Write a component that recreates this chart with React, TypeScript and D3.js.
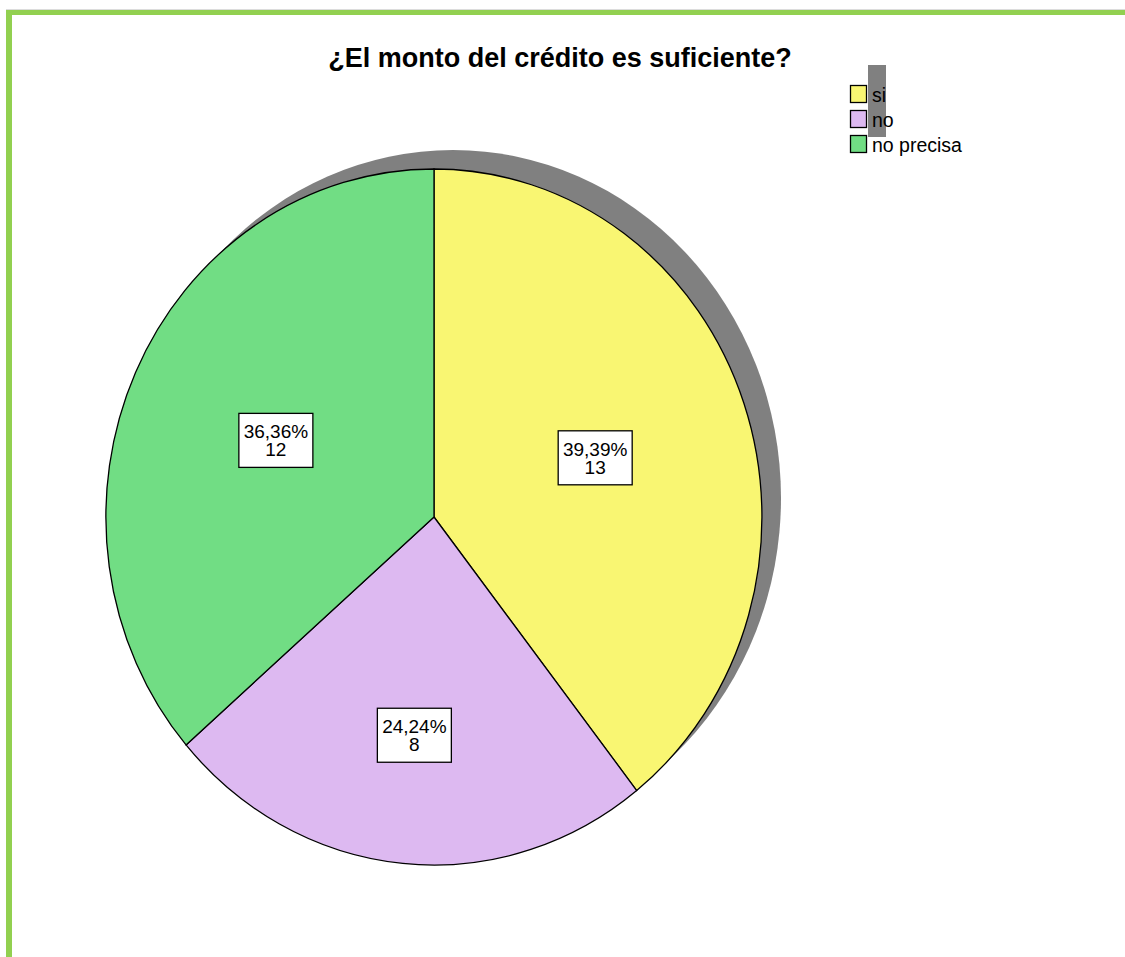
import React from "react";
import * as d3 from "d3";

const categories = ["si", "no", "no precisa"];
const counts = [13, 8, 12];
const percentLabels = ["39,39%", "24,24%", "36,36%"];
const colors = ["#F9F672", "#DDB9F1", "#71DD84"];
const labelRadii = [0.52, 0.63, 0.53];
const title = "¿El monto del crédito es suficiente?";

const W = 1125;
const H = 957;
const cx = 434;
const cy = 517;
const rx = 328;
const ry = 348;

export default function App() {
  const pie = d3.pie<number>().sort(null).value((d) => d)(counts);
  const arc = d3.arc<d3.PieArcDatum<number>>().innerRadius(0).outerRadius(1);
  const font = "'Liberation Sans', Arial, sans-serif";
  return (
    <svg
      width={W}
      height={H}
      style={{ position: "absolute", left: 0, top: 0, background: "#fff" }}
    >
      <rect x={6} y={9} width={W} height={1} fill="#dcdcdc" />
      <rect x={6} y={10} width={W} height={5} fill="#92D050" />
      <rect x={6} y={10} width={6} height={H} fill="#92D050" />
      <text
        x={560}
        y={67}
        textAnchor="middle"
        fontFamily={font}
        fontWeight="bold"
        fontSize={27}
        fill="#000"
      >
        {title}
      </text>
      {/* shadow */}
      <ellipse cx={cx + 19} cy={cy - 19} rx={rx} ry={ry} fill="#808080" />
      <g transform={`translate(${cx},${cy}) scale(${rx},${ry})`}>
        {pie.map((p, i) => (
          <path
            key={i}
            d={arc(p) as string}
            fill={colors[i]}
            stroke="#000"
            strokeWidth={1.3}
            vectorEffect="non-scaling-stroke"
          />
        ))}
      </g>
      {pie.map((p, i) => {
        const a = (p.startAngle + p.endAngle) / 2;
        const x = cx + rx * labelRadii[i] * Math.sin(a);
        const y = cy - ry * labelRadii[i] * Math.cos(a);
        return (
          <g key={i} transform={`translate(${x},${y})`}>
            <rect
              x={-37}
              y={-27}
              width={74}
              height={54}
              fill="#fff"
              stroke="#000"
              strokeWidth={1.3}
            />
            <text
              x={0}
              y={-2}
              textAnchor="middle"
              fontFamily={font}
              fontSize={19}
              fill="#000"
            >
              {percentLabels[i]}
            </text>
            <text
              x={0}
              y={16}
              textAnchor="middle"
              fontFamily={font}
              fontSize={19}
              fill="#000"
            >
              {counts[i]}
            </text>
          </g>
        );
      })}
      {/* legend */}
      <rect x={868} y={65} width={18} height={72} fill="#808080" />
      {categories.map((c, i) => (
        <g key={c} transform={`translate(850,${85 + i * 25})`}>
          <rect x={0.5} y={0.5} width={16} height={17} fill={colors[i]} stroke="#000" strokeWidth={1.3} />
          <text x={22} y={17} fontFamily={font} fontSize={19.5} fill="#000">
            {c}
          </text>
        </g>
      ))}
    </svg>
  );
}
